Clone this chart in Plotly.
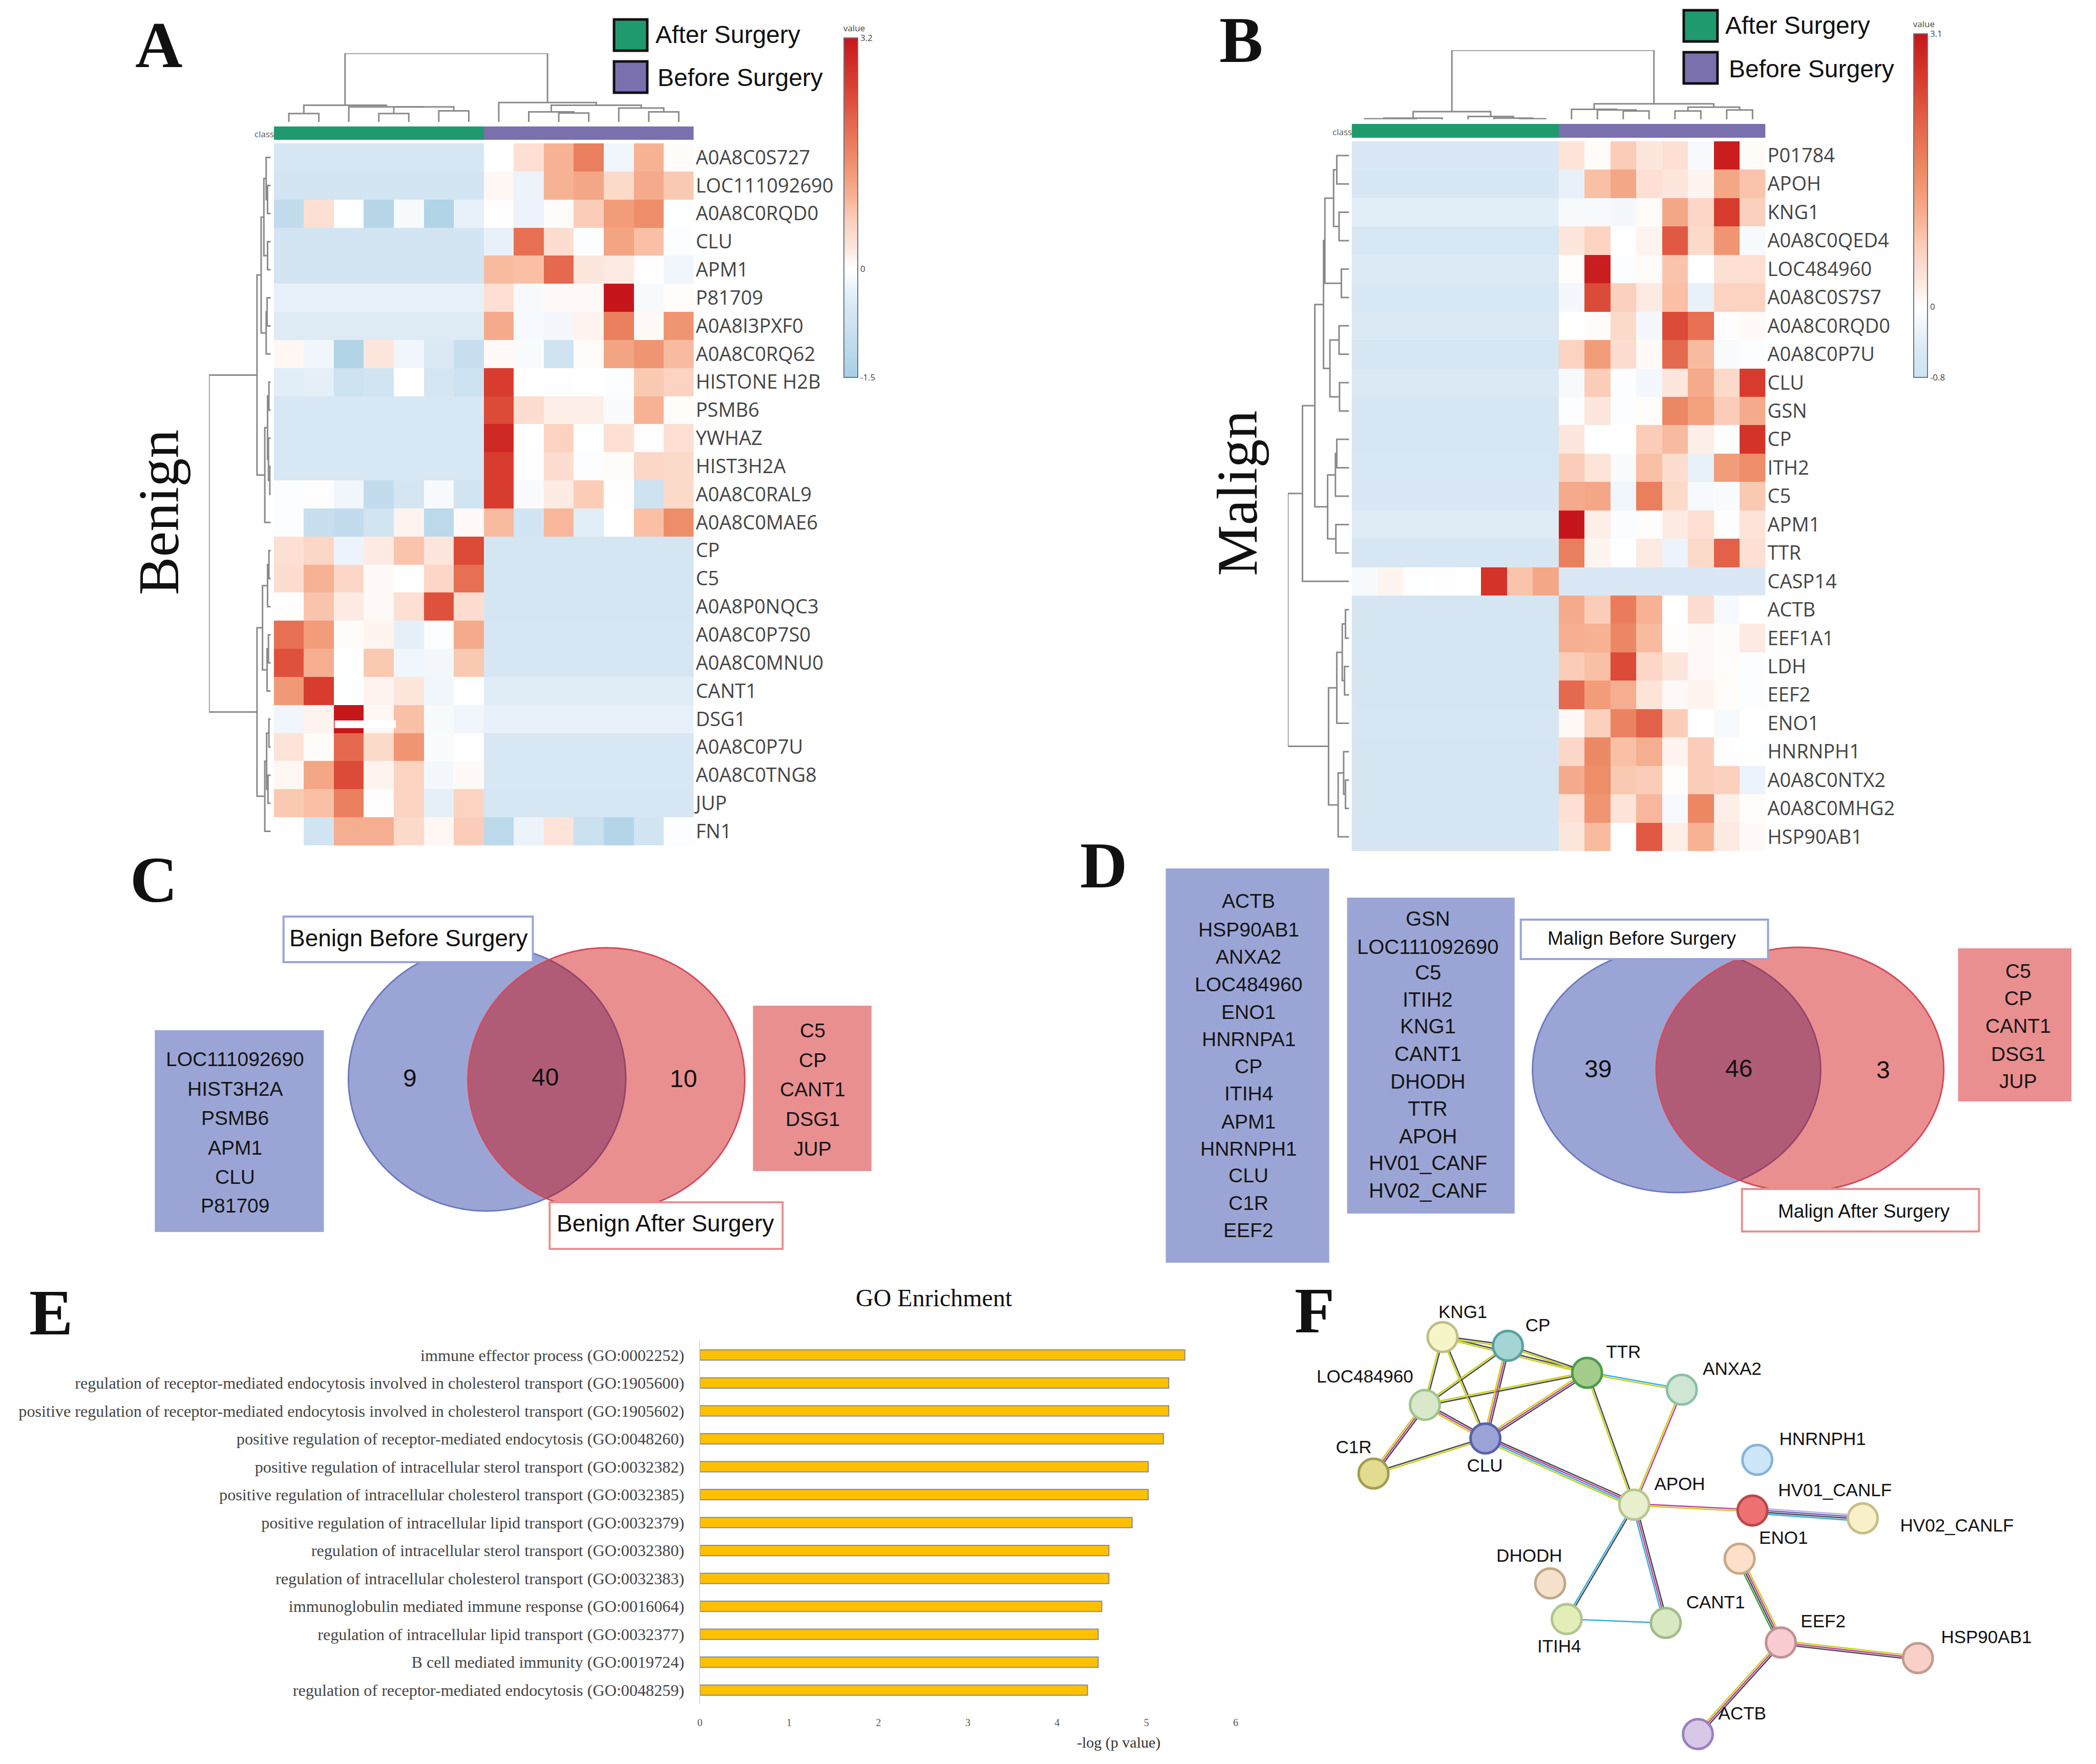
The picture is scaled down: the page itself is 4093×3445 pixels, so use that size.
import plotly.graph_objects as go

W, H = 4093, 3445

# ---------- Panel A data ----------
rows_a = ["A0A8C0S727", "LOC111092690", "A0A8C0RQD0", "CLU", "APM1", "P81709", "A0A8I3PXF0", "A0A8C0RQ62",
          "HISTONE H2B", "PSMB6", "YWHAZ", "HIST3H2A", "A0A8C0RAL9", "A0A8C0MAE6", "CP", "C5", "A0A8P0NQC3",
          "A0A8C0P7S0", "A0A8C0MNU0", "CANT1", "DSG1", "A0A8C0P7U", "A0A8C0TNG8", "JUP", "FN1"]
samples_a = ["A1", "A2", "A3", "A4", "A5", "A6", "A7", "B1", "B2", "B3", "B4", "B5", "B6", "B7"]
class_a = [0, 0, 0, 0, 0, 0, 0, 1, 1, 1, 1, 1, 1, 1]
values_a = [
    [-.58, -.58, -.58, -.58, -.58, -.58, -.58, 0, .4, 1.0, 1.7, -.2, 1.0, .05],
    [-.65, -.65, -.65, -.65, -.65, -.65, -.65, .1, -.25, 1.0, 1.15, .5, 1.1, .75],
    [-1.0, .4, -.03, -1.2, -.1, -1.3, -.3, .02, -.25, .05, .7, 1.3, 1.5, -.03],
    [-.65, -.65, -.65, -.65, -.65, -.65, -.65, -.3, 1.9, .45, -.05, 1.2, .85, -.05],
    [-.65, -.65, -.65, -.65, -.65, -.65, -.65, .9, .85, 2.0, .3, .25, .02, -.2],
    [-.3, -.3, -.3, -.3, -.3, -.3, -.3, .4, -.1, .06, .06, 3.2, -.1, .04],
    [-.45, -.45, -.45, -.45, -.45, -.45, -.45, 1.1, -.12, -.15, .15, 1.7, .06, 1.4],
    [.1, -.2, -1.3, .3, -.2, -.5, -.9, .07, -.08, -.75, .05, 1.2, 1.4, .9],
    [-.4, -.35, -.8, -.7, 0, -.6, -.8, 2.6, 0, .01, 0, -.05, .75, .6],
    [-.55, -.55, -.55, -.55, -.55, -.55, -.55, 2.4, .45, .2, .2, -.08, 1.0, .04],
    [-.55, -.55, -.55, -.55, -.55, -.55, -.55, 2.9, 0, .6, -.03, .4, .02, .4],
    [-.55, -.55, -.55, -.55, -.55, -.55, -.55, 2.6, .02, .45, -.04, .05, .55, .5],
    [-.05, .02, -.2, -1.0, -.6, -.1, -.7, 2.6, -.08, .25, .7, .02, -.8, .5],
    [-.05, -.9, -1.0, -.7, .15, -1.1, .07, .9, -.65, .95, -.4, 0, .85, 1.5],
    [.4, .55, -.25, .25, .8, .3, 2.4, -.62, -.62, -.62, -.62, -.62, -.62, -.62],
    [.45, 1.0, .55, .06, 0, .55, 1.9, -.62, -.62, -.62, -.62, -.62, -.62, -.62],
    [.02, .8, .25, .08, .4, 2.3, .45, -.62, -.62, -.62, -.62, -.62, -.62, -.62],
    [1.9, 1.3, .05, .12, -.35, -.05, 1.1, -.58, -.58, -.58, -.58, -.58, -.58, -.58],
    [2.3, 1.05, 0, .75, -.2, -.15, .75, -.58, -.58, -.58, -.58, -.58, -.58, -.58],
    [1.35, 2.6, -.03, .15, .3, -.2, -.02, -.42, -.42, -.42, -.42, -.42, -.42, -.42],
    [-.2, .15, 3.2, .1, .85, -.1, -.2, -.3, -.3, -.3, -.3, -.3, -.3, -.3],
    [.35, .05, 2.0, .5, 1.4, -.08, .01, -.55, -.55, -.55, -.55, -.55, -.55, -.55],
    [.1, 1.15, 2.4, .15, .6, -.15, .06, -.55, -.55, -.55, -.55, -.55, -.55, -.55],
    [.75, .85, 1.7, .02, .6, -.35, .6, -.58, -.58, -.58, -.58, -.58, -.58, -.58],
    [0, -.7, 1.05, 1.05, .5, .1, .7, -1.1, -.25, .35, -.85, -1.25, -.7, -.05],
]
# Dendrograms: leaf = index, node = (merge height, left, right)
col_tree_a = (124,
              (30, (15, 0, 1), (27, 2, (27, (15, 3, 4), (20, 5, 6)))),
              (35, 7, (30, (18, 8, (16, 9, 10)), (25, 11, (18, 12, 13)))))
row_tree_a = (135,
              (30, (21, (15, (10, 0, (7, 1, 2)), (7, 3, 4)), (10, (8, 5, 6), 7)),
               (13, (7, (4, 8, 9), (5, 10, (2, 11, 12))), 13)),
              (30, (18, (7, (4, 14, 15), 16), (8, (5, 17, 18), 19)),
               (13, (9, (4, 20, 21), (6, 22, 23)), 24)))

# ---------- Panel B data ----------
rows_b = ["P01784", "APOH", "KNG1", "A0A8C0QED4", "LOC484960", "A0A8C0S7S7", "A0A8C0RQD0", "A0A8C0P7U", "CLU", "GSN",
          "CP", "ITH2", "C5", "APM1", "TTR", "CASP14", "ACTB", "EEF1A1", "LDH", "EEF2", "ENO1", "HNRNPH1",
          "A0A8C0NTX2", "A0A8C0MHG2", "HSP90AB1"]
samples_b = ["A1", "A2", "A3", "A4", "A5", "A6", "A7", "A8", "B1", "B2", "B3", "B4", "B5", "B6", "B7", "B8"]
class_b = [0, 0, 0, 0, 0, 0, 0, 0, 1, 1, 1, 1, 1, 1, 1, 1]
values_b = [
    [-.52, -.52, -.52, -.52, -.52, -.52, -.52, -.52, .35, .05, .7, .3, .4, -.1, 3.0, .05],
    [-.58, -.58, -.58, -.58, -.58, -.58, -.58, -.58, -.3, .85, 1.15, .4, .3, .12, 1.15, .8],
    [-.4, -.4, -.4, -.4, -.4, -.4, -.4, -.4, -.1, -.1, -.15, .05, 1.15, .55, 2.6, .65],
    [-.55, -.55, -.55, -.55, -.55, -.55, -.55, -.55, .3, .6, 0, .15, 2.2, .5, 1.4, -.1],
    [-.48, -.48, -.48, -.48, -.48, -.48, -.48, -.48, .03, 3.0, -.05, .05, .8, 0, .4, .4],
    [-.55, -.55, -.55, -.55, -.55, -.55, -.55, -.55, -.15, 2.4, .65, .25, .85, -.3, .6, .6],
    [-.5, -.5, -.5, -.5, -.5, -.5, -.5, -.5, 0, .05, .5, -.15, 2.4, 1.9, .02, .06],
    [-.58, -.58, -.58, -.58, -.58, -.58, -.58, -.58, .6, 1.3, .45, .07, 2.0, .9, -.08, -.05],
    [-.5, -.5, -.5, -.5, -.5, -.5, -.5, -.5, -.1, .7, -.05, -.15, .3, 1.1, .5, 2.6],
    [-.58, -.58, -.58, -.58, -.58, -.58, -.58, -.58, -.05, .3, -.05, .04, 1.6, 1.25, .7, 1.1],
    [-.58, -.58, -.58, -.58, -.58, -.58, -.58, -.58, .3, 0, 0, .7, .9, .2, .01, 2.7],
    [-.55, -.55, -.55, -.55, -.55, -.55, -.55, -.55, .7, .35, -.08, .85, .45, -.3, 1.3, 1.5],
    [-.52, -.52, -.52, -.52, -.52, -.52, -.52, -.52, 1.1, 1.15, -.2, 1.7, .5, -.12, -.08, .75],
    [-.45, -.45, -.45, -.45, -.45, -.45, -.45, -.45, 3.1, .2, -.07, .03, .25, .4, .02, .35],
    [-.58, -.58, -.58, -.58, -.58, -.58, -.58, -.58, 1.7, .12, -.02, .25, -.25, .5, 2.1, .4],
    [-.1, .12, -.03, .02, 0, 2.7, .8, 1.15, -.52, -.52, -.52, -.52, -.52, -.52, -.52, -.52],
    [-.6, -.6, -.6, -.6, -.6, -.6, -.6, -.6, 1.1, .7, 1.75, 1.0, 0, .45, -.12, 0],
    [-.62, -.62, -.62, -.62, -.62, -.62, -.62, -.62, 1.05, 1.0, 1.6, .9, .03, .08, .05, .25],
    [-.6, -.6, -.6, -.6, -.6, -.6, -.6, -.6, .7, .85, 2.4, .55, .3, .08, .04, -.05],
    [-.6, -.6, -.6, -.6, -.6, -.6, -.6, -.6, 2.0, 1.3, 1.05, .35, .08, .15, .04, -.05],
    [-.58, -.58, -.58, -.58, -.58, -.58, -.58, -.58, .08, .65, 1.65, 2.1, .7, 0, -.1, 0],
    [-.6, -.6, -.6, -.6, -.6, -.6, -.6, -.6, .55, 1.55, .85, 1.05, .15, .7, .02, -.03],
    [-.6, -.6, -.6, -.6, -.6, -.6, -.6, -.6, 1.1, 1.5, .75, .7, .03, .7, .65, -.25],
    [-.6, -.6, -.6, -.6, -.6, -.6, -.6, -.6, .4, 1.4, .35, .95, -.12, 1.6, .2, .04],
    [-.6, -.6, -.6, -.6, -.6, -.6, -.6, -.6, .3, .9, 0, 2.2, .2, 1.0, .25, .07],
]
col_tree_b = (125,
              (14, (2, (1, 0, (.5, 1, 2)), 3), (5, 4, (2, 5, (1, 6, 7)))),
              (28, (18, 8, (17, 9, (15, 10, 11))), (22, (15, 12, 13), (17, 14, 15))))
row_tree_b = (134,
              (102,
               (75, (56, (53, (34, (27, 0, 1), (22, 2, 3)), (17, 4, 5)), (42, (22, 6, 7), (21, 8, 9))),
                (47, (30, (27, 10, 11), 12), (29, 13, 14))), 15),
              (45, (27, (15, (8, 16, 17), (10, 18, 19)), 20), (24, (12, 21, (8, 22, 23)), 24)))

# ---------- Panels C / D data ----------
only_before_c = ["LOC111092690", "HIST3H2A", "PSMB6", "APM1", "CLU", "P81709"]
only_after_c = ["C5", "CP", "CANT1", "DSG1", "JUP"]
counts_c = ["9", "40", "10"]
only_before_d1 = ["ACTB", "HSP90AB1", "ANXA2", "LOC484960", "ENO1", "HNRNPA1", "CP", "ITIH4", "APM1", "HNRNPH1",
                  "CLU", "C1R", "EEF2"]
only_before_d2 = ["GSN", "LOC111092690", "C5", "ITIH2", "KNG1", "CANT1", "DHODH", "TTR", "APOH", "HV01_CANF",
                  "HV02_CANF"]
only_after_d = ["C5", "CP", "CANT1", "DSG1", "JUP"]
counts_d = ["39", "46", "3"]

# ---------- Panel E data ----------
go_terms = ["immune effector process (GO:0002252)",
            "regulation of receptor-mediated endocytosis involved in cholesterol transport (GO:1905600)",
            "positive regulation of receptor-mediated endocytosis involved in cholesterol transport (GO:1905602)",
            "positive regulation of receptor-mediated endocytosis (GO:0048260)",
            "positive regulation of intracellular sterol transport (GO:0032382)",
            "positive regulation of intracellular cholesterol transport (GO:0032385)",
            "positive regulation of intracellular lipid transport (GO:0032379)",
            "regulation of intracellular sterol transport (GO:0032380)",
            "regulation of intracellular cholesterol transport (GO:0032383)",
            "immunoglobulin mediated immune response (GO:0016064)",
            "regulation of intracellular lipid transport (GO:0032377)",
            "B cell mediated immunity (GO:0019724)",
            "regulation of receptor-mediated endocytosis (GO:0048259)"]
go_values = [5.43, 5.25, 5.25, 5.19, 5.02, 5.02, 4.84, 4.58, 4.58, 4.50, 4.46, 4.46, 4.34]

# ---------- Panel F data (read in a 1568x1568 frame over the panel) ----------
node_names = ["KNG1", "CP", "TTR", "ANXA2", "LOC484960", "CLU", "C1R", "HNRNPH1", "APOH", "HV01_CANLF", "HV02_CANLF",
              "ENO1", "DHODH", "ITIH4", "CANT1", "EEF2", "HSP90AB1", "ACTB"]
node_x = [352, 474, 622, 799, 319, 432, 223, 940, 710, 931, 1137, 907, 553, 584, 769, 984, 1240, 829]
node_y = [254, 281, 364, 416, 463, 566, 674, 632, 770, 788, 812, 936, 1012, 1122, 1134, 1194, 1242, 1476]
node_fill = ["#f5f6c8", "#a5d4d4", "#a4cc8a", "#cfe6d4", "#d8e8c8", "#9aa2d6", "#e2dc90", "#cfe6f8", "#e8efcd",
             "#ee7070", "#f8f0c8", "#fde0c8", "#f6e2cc", "#e2edb8", "#d8e8c0", "#f8ccd0", "#f8d0c8", "#d8c8e8"]
node_edge = ["#c2bd84", "#5aa0a0", "#4d9c4d", "#8cc0a4", "#a0c48f", "#5a60a8", "#a49c50", "#86b4d8", "#b8c68e",
             "#b84848", "#c8bd88", "#c8a888", "#c0a888", "#b0c490", "#a0bc88", "#c09094", "#c09c90", "#9c80bc"]
label_x = [390, 530, 690, 893, 207, 431, 186, 1062, 795, 1085, 1313, 989, 514, 570, 862, 1063, 1368, 912]
label_y = [182, 222, 305, 357, 380, 655, 598, 573, 711, 730, 838, 877, 932, 1210, 1075, 1134, 1182, 1417]
K, Y, M, C, G, P, L = "#4a4a4a", "#c8d010", "#c040a0", "#30b0e0", "#3fa040", "#7060c0", "#b8b0e0"
edges = [("KNG1", "CP", [K, Y]), ("KNG1", "TTR", [K, Y]), ("CP", "TTR", [K, Y]), ("KNG1", "LOC484960", [K, Y]),
         ("KNG1", "CLU", [K, Y]), ("CP", "LOC484960", [K, Y]), ("CP", "CLU", [K, M, Y]),
         ("TTR", "LOC484960", [K, Y]), ("TTR", "CLU", [K, M, Y]), ("TTR", "ANXA2", [C, Y]), ("TTR", "APOH", [K, Y]),
         ("ANXA2", "APOH", [M, Y]), ("LOC484960", "CLU", [K, M, Y]), ("LOC484960", "C1R", [K, M, Y]),
         ("C1R", "CLU", [K, Y]), ("CLU", "APOH", [K, M, C, Y]), ("APOH", "HV01_CANLF", [M, Y]),
         ("HV01_CANLF", "HV02_CANLF", [L, P, K, C]), ("APOH", "ITIH4", [K, C]), ("APOH", "CANT1", [K, M, C]),
         ("ITIH4", "CANT1", [C]), ("ENO1", "EEF2", [Y, M, K, G]), ("EEF2", "HSP90AB1", [Y, M, K]),
         ("EEF2", "ACTB", [K, M, Y])]

# ---------- Colours ----------
GREEN, PURPLE = "#1f9a6f", "#7b70ae"
anchors = [(-1.5, "#a6cee4"), (-.8, "#cde2f0"), (-.55, "#d7e7f3"), (-.3, "#e8f1f9"), (0, "#ffffff"), (.3, "#fde6dc"),
           (.7, "#fbcdb8"), (1.0, "#f7b294"), (1.5, "#ee8e69"), (2.0, "#e5694e"), (2.5, "#da4232"), (3.2, "#c7161b")]


def scale(lo, hi):
    out = [[(v - lo) / (hi - lo), c] for v, c in anchors if lo <= v < hi]
    out.append([1, "#c7161b"])
    return out


# ---------- Helpers ----------
fig = go.Figure()
layout = {}
axis_id = [0]


def axes(x0, x1, y0, y1, xa=None, ya=None):
    """New axis pair occupying a pixel rectangle of the page."""
    axis_id[0] += 1
    n = axis_id[0]
    base = dict(visible=False, showgrid=False, zeroline=False)
    layout[f"xaxis{n}"] = {**base, "domain": [x0 / W, x1 / W], "anchor": f"y{n}", **(xa or {})}
    layout[f"yaxis{n}"] = {**base, "domain": [1 - y1 / H, 1 - y0 / H], "anchor": f"x{n}", **(ya or {})}
    return f"x{n}", f"y{n}"


annotations = []
shapes = []


def text(x, y, s, size, family="Liberation Sans", color="#111111", angle=0, weight=None):
    annotations.append(dict(x=x / W, y=1 - y / H, xref="paper", yref="paper", text=s, showarrow=False,
                            xanchor="center", yanchor="middle", textangle=angle,
                            font=dict(size=size, family=family, color=color, weight=weight)))


def rect(x0, y0, x1, y1, fill, line="rgba(0,0,0,0)", lw=0):
    shapes.append(dict(type="rect", xref="paper", yref="paper", x0=x0 / W, x1=x1 / W, y0=1 - y0 / H, y1=1 - y1 / H,
                       fillcolor=fill, line=dict(color=line, width=lw), layer="above"))


def ellipse(x0, y0, x1, y1, fill, line, lw=3):
    shapes.append(dict(type="circle", xref="paper", yref="paper", x0=x0 / W, x1=x1 / W, y0=1 - y0 / H, y1=1 - y1 / H,
                       fillcolor=fill, line=dict(color=line, width=lw), layer="above"))


def dendro(tree):
    xs, ys = [], []

    def walk(t):
        if isinstance(t, int):
            return t, 0
        h, a, b = t
        ca, ha = walk(a)
        cb, hb = walk(b)
        xs.extend([ca, ca, cb, cb, None])
        ys.extend([ha, h, h, hb, None])
        return (ca + cb) / 2, h

    walk(tree)
    return xs, ys


DLINE = dict(color="#8a8a8a", width=3)


def heat_panel(rows, samples, classes, values, col_tree, row_tree, zmin, zmax, box, classbar, top, left, cbar,
               tick_vals):
    hx0, hx1, hy0, hy1 = box
    xr, yr = axes(hx0, hx1, hy0, hy1, ya=dict(visible=True, side="right", autorange="reversed", ticks="",
                                              showline=False, ticklabelstandoff=3, tickmode="array", tickvals=rows,
                                              ticktext=rows, tickfont=dict(size=38, family="Open Sans", color="#444444")))
    fig.add_trace(go.Heatmap(z=values, x=samples, y=rows, xaxis=xr, yaxis=yr, zmin=zmin, zmax=zmax,
                             colorscale=scale(zmin, zmax),
                             colorbar=dict(x=cbar[0] / W, xanchor="left", xpad=0, y=1 - cbar[1] / H, yanchor="top",
                                           ypad=0, lenmode="pixels", len=cbar[2] - cbar[1], thicknessmode="pixels",
                                           thickness=27, outlinecolor="#667788", outlinewidth=2, ticks="",
                                           tickmode="array", tickvals=tick_vals, ticktext=[str(v) if v else "0" for v in tick_vals],
                                           ticklabelposition="outside",
                                           tickfont=dict(size=17, family="Open Sans", color="#444444"),
                                           title=dict(text="value", side="top",
                                                      font=dict(size=17, family="Open Sans", color="#444444")))))
    xc, yc = axes(hx0, hx1, classbar[0], classbar[1])
    fig.add_trace(go.Heatmap(z=[classes], x=samples, y=["class"], xaxis=xc, yaxis=yc, zmin=0, zmax=1, showscale=False,
                             colorscale=[[0, GREEN], [.5, GREEN], [.5, PURPLE], [1, PURPLE]]))
    n_col, n_row = len(samples), len(rows)
    dx, dy = dendro(col_tree)
    xt, yt = axes(hx0, hx1, top[0], top[1], xa=dict(range=[-.5, n_col - .5]), ya=dict(range=[0, col_tree[0]]))
    fig.add_trace(go.Scatter(x=dx, y=dy, xaxis=xt, yaxis=yt, mode="lines", line=DLINE, cliponaxis=False))
    dy2, dx2 = dendro(row_tree)
    xl, yl = axes(left[0], left[1], hy0, hy1, xa=dict(range=[row_tree[0], 0]), ya=dict(range=[n_row - .5, -.5]))
    fig.add_trace(go.Scatter(x=dx2, y=dy2, xaxis=xl, yaxis=yl, mode="lines", line=DLINE, cliponaxis=False))


# ---------- Panels A and B ----------
heat_panel(rows_a, samples_a, class_a, values_a, col_tree_a, row_tree_a, -1.5, 3.2, (531, 1353, 280, 1651), (247, 273),
           (104, 238), (404, 525), (1647, 46, 737), [-1.5, 0, 3.2])
heat_panel(rows_b, samples_b, class_b, values_b, col_tree_b, row_tree_b, -.8, 3.1, (2641, 3451, 276, 1662), (242, 269),
           (98, 233), (2516, 2636), (3741, 38, 737), [-.8, 0, 3.1])

rect(650, 1407, 770, 1422, "#ffffff")  # white scratch in the DSG1 row
for (x0, y0, x1, y1, c) in [(1197, 38, 1262, 99, GREEN), (1197, 120, 1262, 181, PURPLE),
                            (3291, 20, 3357, 81, GREEN), (3291, 102, 3357, 163, PURPLE)]:
    rect(x0, y0, x1, y1, c, "#111111", 5)
text(1420, 67, "After Surgery", 48)
text(1444, 152, "Before Surgery", 48)
text(3514, 49, "After Surgery", 48)
text(3541, 134, "Before Surgery", 48)
text(512, 262, "class", 17, "Open Sans", "#555555")
text(2622, 258, "class", 17, "Open Sans", "#555555")
text(306, 1000, "Benign", 112, "Liberation Serif", angle=-90)
text(2417, 963, "Malign", 112, "Liberation Serif", angle=-90)

# ---------- Panel letters ----------
SERIF = "Liberation Serif"
for lx, ly, s in [(306, 88, "A"), (2424, 78, "B"), (296, 1718, "C"), (2155, 1690, "D"), (95, 2563, "E"), (2568, 2559, "F")]:
    text(lx, ly, s, 128, SERIF, weight=700)

# ---------- Venn panels ----------
BLUE_FILL, RED_FILL = "#9ba5d5", "#e98f90"
RED_ALPHA = "rgba(205,0,0,0.44)"


def box_lines(names, cx, ys, size):
    for nm, yy in zip(names, ys):
        text(cx, yy, nm, size, color="#151515")


ellipse(677, 1847, 1220, 2365, BLUE_FILL, "#6a78c0")
ellipse(911, 1851, 1453, 2366, RED_ALPHA, "#d24a5c")
rect(550, 1790, 1038, 1879, "#ffffff", "#98a4d8", 4)
rect(1071, 2348, 1527, 2439, "#ffffff", "#e98f90", 4)
rect(298, 2012, 629, 2406, BLUE_FILL)
rect(1469, 1964, 1701, 2287, RED_FILL)
text(794, 1832, "Benign Before Surgery", 46)
text(1297, 2389, "Benign After Surgery", 46)
box_lines(only_before_c, 455, [2068, 2126, 2183, 2241, 2298, 2354], 39)
box_lines(only_after_c, 1586, [2012, 2070, 2127, 2185, 2243], 39)
for (cx, cy), s in zip([(797, 2105), (1062, 2103), (1333, 2106)], counts_c):
    text(cx, cy, s, 48)

ellipse(2995, 1849, 3559, 2329, BLUE_FILL, "#6a78c0")
ellipse(3237, 1850, 3800, 2327, RED_ALPHA, "#d24a5c")
rect(2972, 1796, 3456, 1873, "#ffffff", "#98a4d8", 4)
rect(3405, 2322, 3869, 2405, "#ffffff", "#e98f90", 4)
rect(2277, 1696, 2597, 2466, BLUE_FILL)
rect(2632, 1753, 2960, 2370, BLUE_FILL)
rect(3828, 1852, 4050, 2151, RED_FILL)
text(3209, 1832, "Malign Before Surgery", 37)
text(3644, 2365, "Malign After Surgery", 37)
box_lines(only_before_d1, 2439, [1760, 1815, 1868, 1922, 1976, 2029, 2082, 2135, 2190, 2243, 2295, 2349, 2402], 39)
box_lines(only_before_d2, 2790, [1794, 1849, 1899, 1952, 2004, 2058, 2112, 2165, 2219, 2271, 2325], 40)
box_lines(only_after_d, 3946, [1896, 1949, 2003, 2058, 2111], 39)
for (cx, cy), s in zip([(3123, 2087), (3399, 2086), (3681, 2089)], counts_d):
    text(cx, cy, s, 48)

# ---------- Panel E ----------
xe, ye = axes(1365, 2414, 2619, 3328,
              xa=dict(visible=True, range=[0, 6], tickvals=[0, 1, 2, 3, 4, 5, 6], ticks="", showline=False,
                      ticklabelstandoff=22, tickfont=dict(size=20, family=SERIF, color="#555555")),
              ya=dict(visible=True, autorange="reversed", ticks="", showline=True, linecolor="#dddddd", linewidth=2,
                      ticklabelstandoff=22, tickfont=dict(size=32.2, family=SERIF, color="#444444")))
fig.add_trace(go.Bar(x=go_values, y=go_terms, orientation="h", xaxis=xe, yaxis=ye, width=.37,
                     marker=dict(color="#ffc000", line=dict(color="#8a8a8a", width=2))))
text(1823, 2534, "GO Enrichment", 48, SERIF)
text(2185, 3403, "-log (p value)", 30, SERIF, "#333333")

# ---------- Panel F ----------
SX, SY = 1643 / 1568, 995 / 1568  # page pixels per frame unit
xn, yn = axes(2450, W, 2450, H, xa=dict(range=[0, 1568]), ya=dict(range=[1568, 0]))
idx = {n: i for i, n in enumerate(node_names)}
by_colour = {}
for a, b, cols in edges:
    i, j = idx[a], idx[b]
    dxp = (node_x[j] - node_x[i]) * SX
    dyp = (node_y[j] - node_y[i]) * SY
    ln = (dxp ** 2 + dyp ** 2) ** .5
    nx, ny = -dyp / ln, dxp / ln
    for k, col in enumerate(cols):
        off = (k - (len(cols) - 1) / 2) * 3.6
        ox, oy = nx * off / SX, ny * off / SY
        bx, by = by_colour.setdefault(col, ([], []))
        bx.extend([node_x[i] + ox, node_x[j] + ox, None])
        by.extend([node_y[i] + oy, node_y[j] + oy, None])
for col, (bx, by) in by_colour.items():
    fig.add_trace(go.Scatter(x=bx, y=by, xaxis=xn, yaxis=yn, mode="lines", line=dict(color=col, width=2.6)))
fig.add_trace(go.Scatter(x=node_x, y=node_y, xaxis=xn, yaxis=yn, mode="markers",
                         marker=dict(size=58, color=node_fill, line=dict(color=node_edge, width=5))))
fig.add_trace(go.Scatter(x=label_x, y=label_y, xaxis=xn, yaxis=yn, mode="text", text=node_names,
                         textposition="middle center", cliponaxis=False,
                         textfont=dict(size=35, family="Liberation Sans", color="#111111")))

fig.update_layout(width=W, height=H, margin=dict(l=0, r=0, t=0, b=0), paper_bgcolor="white", plot_bgcolor="white",
                  showlegend=False, annotations=annotations, shapes=shapes, **layout)
fig.write_html("out.html", post_script="document.body.style.margin='0';", config={"displayModeBar": False})
